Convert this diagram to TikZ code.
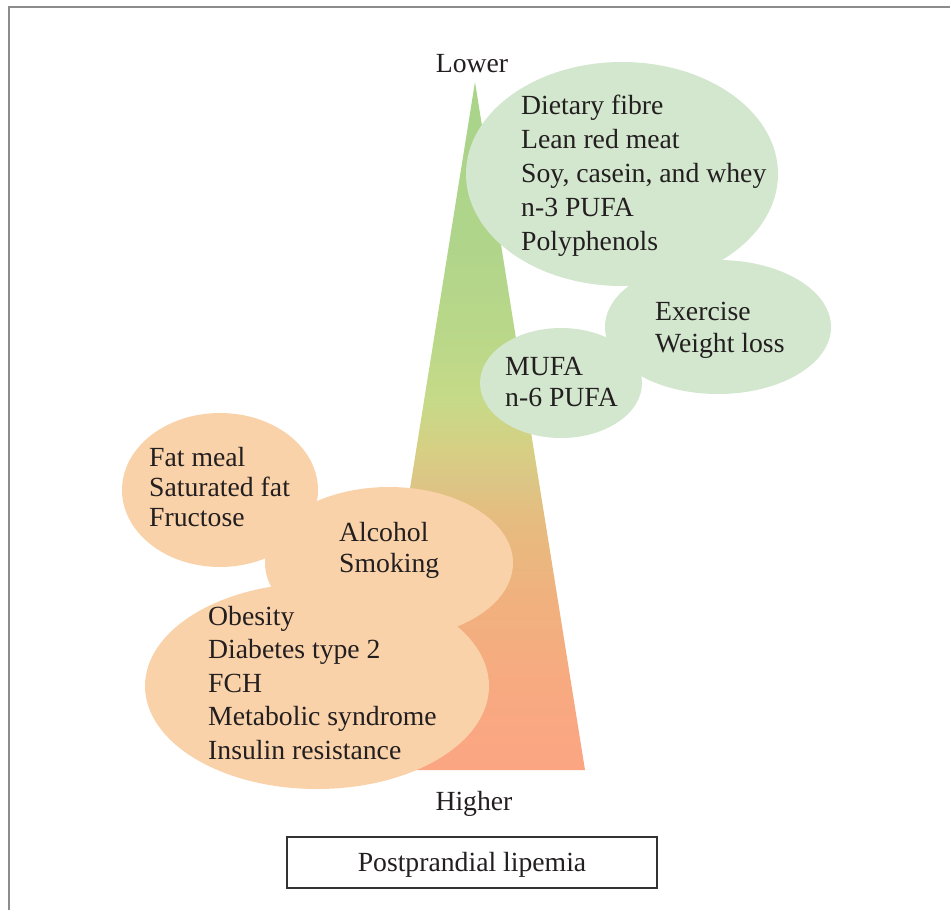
\documentclass[tikz,border=0pt]{standalone}
\usepackage{fontspec}
\setmainfont{Liberation Serif}
\usetikzlibrary{shapes.geometric}

% palette
\definecolor{framegray}{HTML}{8C8C8C}
\definecolor{boxline}{HTML}{333333}
\definecolor{inktext}{HTML}{231F20}
\definecolor{goodfill}{HTML}{D3E6CE}
\definecolor{badfill}{HTML}{FAD2A9}
% gradient stops of the lipemia wedge, bottom to top
\definecolor{wA}{HTML}{FBA583}
\definecolor{wB}{HTML}{F7AA80}
\definecolor{wC}{HTML}{F0B17E}
\definecolor{wD}{HTML}{E6BC80}
\definecolor{wE}{HTML}{DCC685}
\definecolor{wF}{HTML}{D6CF84}
\definecolor{wG}{HTML}{C6DA88}
\definecolor{wH}{HTML}{BCD889}
\definecolor{wI}{HTML}{B0D58A}
\definecolor{wJ}{HTML}{A8D48A}

\pgfdeclareverticalshading{lipemiawedge}{100bp}{%
  color(0bp)=(wA); color(25bp)=(wA); color(31.5bp)=(wB); color(37.4bp)=(wC);
  color(43.2bp)=(wD); color(46.1bp)=(wE); color(48.3bp)=(wF); color(51.9bp)=(wG);
  color(55.5bp)=(wH); color(62.8bp)=(wI); color(75bp)=(wJ); color(100bp)=(wJ)}

\newcommand{\listfont}[1]{\fontsize{27.7}{#1}\selectfont}

\tikzset{
  itemlist/.style={anchor=north west, inner sep=0pt, align=left, text=inktext},
  scalelabel/.style={anchor=base, inner sep=0pt, text=inktext, font=\listfont{32}},
  titlebox/.style={draw=boxline, line width=2pt, minimum width=370pt, minimum height=51pt,
                   text=inktext, font=\listfont{32}, text height=19pt, text depth=1pt}
}

\begin{document}
\begin{tikzpicture}[x=1pt, y=-1pt]
  \useasboundingbox (0,0) rectangle (950,910);

  % outer frame, open at the right and bottom
  \coordinate (frameBL) at (9,910);
  \coordinate (frameTL) at (9,7);
  \coordinate (frameTR) at (950,7);
  \draw[framegray, line width=2.5pt] (frameBL) -- (frameTL) -- (frameTR);

  % the wedge: lower lipemia at the tip, higher at the base
  \coordinate (apex) at (475,82);
  \coordinate (baseL) at (365,770);
  \coordinate (baseR) at (585,770);
  \shade[shading=lipemiawedge] (apex) -- (baseR) -- (baseL) -- cycle;

  % lowering factors
  \fill[goodfill] (622,174) ellipse [x radius=156pt, y radius=112pt];
  \fill[goodfill] (718,327) ellipse [x radius=113pt, y radius=67pt];
  \fill[goodfill] (561,383) ellipse [x radius=81pt, y radius=55pt];

  % raising factors
  \fill[badfill] (220,490) ellipse [x radius=98pt, y radius=77pt];
  \fill[badfill] (389,563) ellipse [x radius=124pt, y radius=76pt];
  \fill[badfill] (317,686) ellipse [x radius=172pt, y radius=103pt];

  % item lists
  \node[itemlist, font=\listfont{34}] (diet) at (521,95)
    {Dietary fibre\\Lean red meat\\Soy, casein, and whey\\n-3 PUFA\\Polyphenols};
  \node[itemlist, font=\listfont{32}] (exercise) at (655,302)
    {Exercise\\Weight loss};
  \node[itemlist, font=\listfont{31}] (mufa) at (505,357)
    {MUFA\\n-6 PUFA};
  \node[itemlist, font=\listfont{30}] (fatmeal) at (149,447)
    {Fat meal\\Saturated fat\\Fructose};
  \node[itemlist, font=\listfont{31}] (alcohol) at (339,522)
    {Alcohol\\Smoking};
  \node[itemlist, font=\listfont{33.5}] (obesity) at (208,606)
    {Obesity\\Diabetes type 2\\FCH\\Metabolic syndrome\\Insulin resistance};

  % scale ends and title
  \node[scalelabel] (lower) at (472,72) {Lower};
  \node[scalelabel] (higher) at (474,810) {Higher};
  \node[titlebox] (title) at (472,862.5) {Postprandial lipemia};
\end{tikzpicture}
\end{document}
